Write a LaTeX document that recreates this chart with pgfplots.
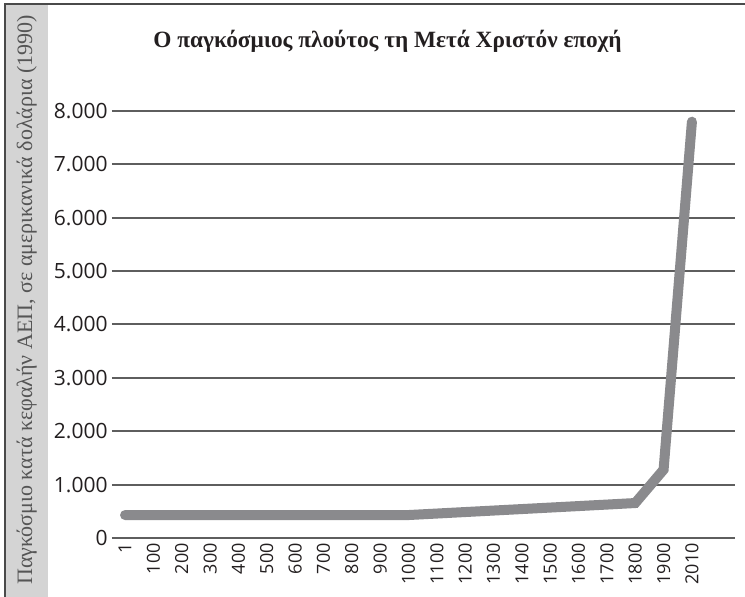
\documentclass[border=0pt]{standalone}
\usepackage{fontspec}
\setmainfont{Liberation Serif}
\newfontfamily\opensans{Open Sans}
\usepackage{pgfplots}
\pgfplotsset{compat=1.18}
\definecolor{gridc}{HTML}{5E5E5E}
\definecolor{linec}{HTML}{8A8A8D}
\definecolor{stripc}{HTML}{D4D4D4}
\definecolor{framec}{HTML}{4A4A4A}
\definecolor{labc}{HTML}{555555}
\definecolor{tickc}{HTML}{231F20}
\begin{document}
\begin{tikzpicture}
\useasboundingbox (0,0) rectangle (372.5pt,298.5pt);
\fill[white] (0,0) rectangle (372.5pt,298.5pt);
\fill[stripc] (2.5pt,0) rectangle (24pt,296.5pt);
\draw[framec, line width=1pt] (2.5pt,0) -- (2.5pt,296.5pt) -- (372.5pt,296.5pt);
\node[rotate=90, anchor=base, text=labc, font=\fontsize{11}{13}\selectfont, inner sep=0pt] at (16pt,148.5pt)
  {Παγκόσμιο κατά κεφαλήν ΑΕΠ, σε αμερικανικά δολάρια (1990)};
\node[anchor=base, font=\bfseries\fontsize{11.65}{13}\selectfont, text=tickc, inner sep=0pt] at (193.75pt,274.5pt)
  {Ο παγκόσμιος πλούτος τη Μετά Χριστόν εποχή};
\begin{axis}[
  at={(56pt,29.5pt)}, anchor=south west,
  scale only axis, width=311.5pt, height=213.5pt,
  xmin=-0.46, xmax=21.52, ymin=0, ymax=8000,
  axis line style={draw=none},
  major tick length=0pt,
  ytick={0,1000,2000,3000,4000,5000,6000,7000,8000},
  yticklabels={0,1.000,2.000,3.000,4.000,5.000,6.000,7.000,8.000},
  xtick={0,...,20},
  xticklabels={1,100,200,300,400,500,600,700,800,900,1000,1100,1200,1300,1400,1500,1600,1700,1800,1900,2010},
  ymajorgrids,
  grid style={gridc, line width=1pt},
  yticklabel style={font=\opensans\fontsize{10.5}{12}\selectfont, text=tickc, anchor=east, inner sep=0pt, xshift=-2pt},
  xticklabel style={font=\opensans\fontsize{9}{10}\selectfont, text=tickc, rotate=90, anchor=east, inner sep=0pt, xshift=-2.5pt},
  clip=true,
]
\addplot[linec, line width=5pt, line cap=round] coordinates {
(0,430) (1,430) (2,430) (3,430) (4,430) (5,430) (6,430) (7,430) (8,430) (9,430) (10,430)
(11,458) (12,486) (13,514) (14,542) (15,570) (16,598) (17,626) (18,655) (19,1280) (20,7800)
};
\end{axis}
\end{tikzpicture}
\end{document}
